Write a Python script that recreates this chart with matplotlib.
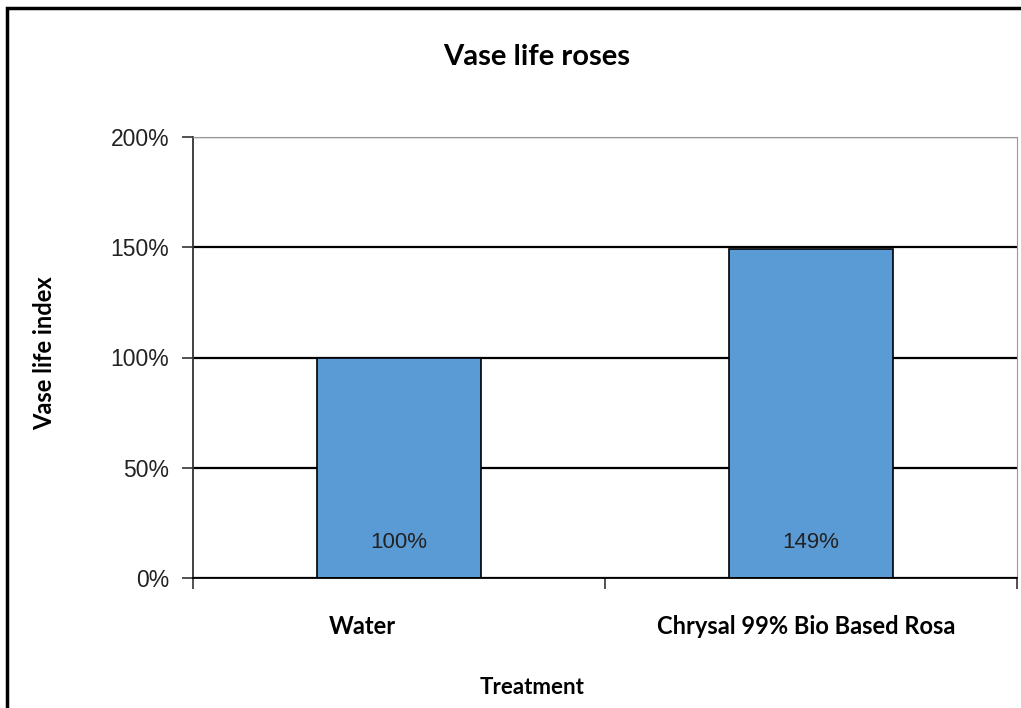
import matplotlib
matplotlib.use("Agg")
import matplotlib.pyplot as plt
from matplotlib.patches import Rectangle
from matplotlib.ticker import FixedLocator, PercentFormatter

categories = ["Water", "Chrysal 99% Bio Based Rosa"]
values = [100, 149]
labels = ["100%", "149%"]
yticks = [0, 50, 100, 150, 200]

W, H = 1021, 708
fig = plt.figure(figsize=(W / 100, H / 100), dpi=100)
ax = fig.add_axes([193 / W, 1 - 578 / H, (1017 - 193) / W, (578 - 137) / H])

# rahmen um das ganze diagramm (rechts/unten abgeschnitten)
fig.patches.append(Rectangle((7 / W, -0.1), 1.2, (700 / H) + 0.1,
                             transform=fig.transFigure, fill=False,
                             edgecolor="black", linewidth=2.5))

x = range(len(categories))
ax.bar(x, values, width=0.4, color="#5B9BD5", edgecolor="black",
       linewidth=1.2, zorder=2)
for xi, lab in zip(x, labels):
    ax.text(xi, 16, lab, ha="center", va="center", fontsize=16,
            family="Liberation Sans", color="#222222", zorder=3)

ax.set_xlim(-0.5, 1.5)
ax.set_ylim(0, 200)
ax.set_yticks(yticks)
ax.yaxis.set_major_formatter(PercentFormatter(decimals=0))
ax.grid(axis="y", color="black", linewidth=1.6, zorder=1)
ax.set_axisbelow(True)

ax.set_xticks([])
ax.xaxis.set_minor_locator(FixedLocator([-0.5, 0.5, 1.5]))
ax.tick_params(axis="x", which="minor", direction="out", length=8,
               width=1.2, color="#333333")
ax.tick_params(axis="y", direction="out", length=8, width=1.2,
               color="#333333", labelsize=16.5, labelcolor="#222222", pad=9)
for t in ax.get_yticklabels():
    t.set_family("Liberation Sans")

ax.spines["top"].set_color("#999999")
ax.spines["right"].set_color("#999999")
ax.spines["left"].set_color("#333333")
ax.spines["left"].set_linewidth(1.3)
ax.spines["bottom"].set_linewidth(1.3)

bold = dict(family="Lato", fontweight="bold", color="black")
fig.text(537 / W, 1 - 57 / H, "Vase life roses", ha="center", va="center",
         fontsize=21, **bold)
fig.text(45 / W, 1 - 353 / H, "Vase life index", ha="center", va="center",
         rotation=90, fontsize=17, **bold)
fig.text(532 / W, 1 - 688 / H, "Treatment", ha="center", va="center",
         fontsize=16, **bold)
fig.text(362 / W, 1 - 627 / H, categories[0], ha="center", va="center",
         fontsize=17, **bold)
fig.text(806 / W, 1 - 627 / H, categories[1], ha="center", va="center",
         fontsize=17, **bold)

fig.savefig("out.png", dpi=100)
